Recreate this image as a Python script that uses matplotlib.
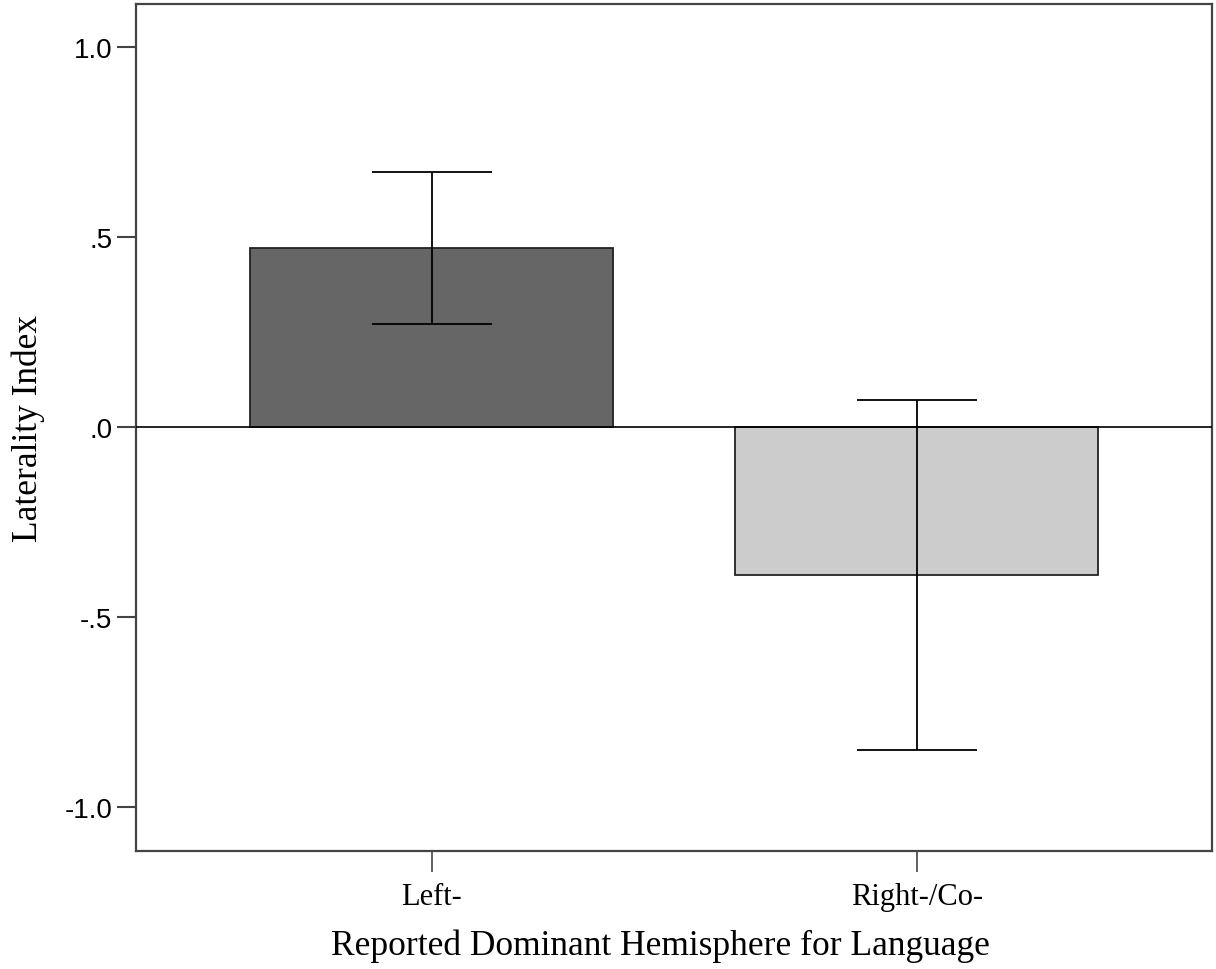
import matplotlib.pyplot as plt

categories = ["Left-", "Right-/Co-"]
means = [0.471, -0.389]
errors = [0.200, 0.460]
colors = ["#666666", "#cccccc"]

fig = plt.figure(figsize=(12.16, 9.70), dpi=100)
ax = fig.add_axes([136 / 1216, 1 - 852 / 970, 1076 / 1216, 847 / 970])

x = list(range(len(categories)))
ax.bar(x, means, width=0.748, color=colors, edgecolor="#222222", linewidth=1.3, zorder=2)
ax.axhline(0, color="black", linewidth=1.2, zorder=3)
ax.errorbar(x, means, yerr=errors, fmt="none", ecolor="black", elinewidth=1.3,
            capsize=43, capthick=1.3, zorder=4)

ax.set_xlim(-0.609, 1.608)
ax.set_ylim(-1.116, 1.113)
ax.set_yticks([1.0, 0.5, 0.0, -0.5, -1.0])
ax.set_yticklabels(["1.0", ".5", ".0", "-.5", "-1.0"], family="Liberation Sans", fontsize=20)
ax.set_xticks(x)
ax.set_xticklabels(categories, family="Liberation Serif", fontsize=22)

for s in ax.spines.values():
    s.set_color("#444444")
    s.set_linewidth(1.6)
ax.tick_params(axis="y", length=14, width=1.5, color="#444444", pad=3)
ax.tick_params(axis="x", length=15, width=1.2, color="#444444", pad=7)

ax.set_ylabel("Laterality Index", family="Liberation Serif", fontsize=25.5, labelpad=14)
ax.set_xlabel("Reported Dominant Hemisphere for Language", family="Liberation Serif",
              fontsize=25.5)
ax.xaxis.set_label_coords(0.487, -0.092)

fig.savefig("out.png", dpi=100)
